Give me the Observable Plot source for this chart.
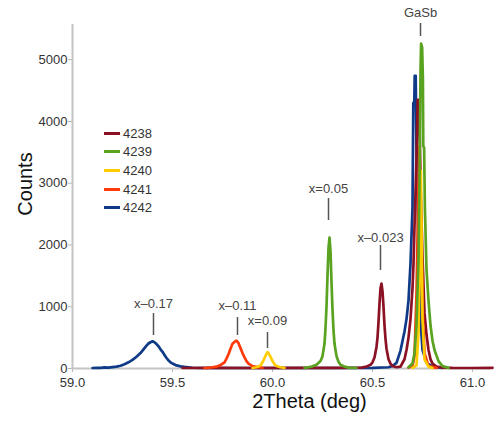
<!DOCTYPE html>
<html>
<head>
<meta charset="utf-8">
<script src="https://cdn.jsdelivr.net/npm/d3@7"></script>
<script src="https://cdn.jsdelivr.net/npm/@observablehq/plot@0.6"></script>
<style>
  html, body { margin: 0; padding: 0; background: #fff; }
  #wrap { position: relative; width: 497px; height: 421px; font-family: "Liberation Sans", Arial, sans-serif; }
  #legend { position: absolute; left: 104px; top: 124px; font-size: 13px; color: #333; }
  #legend .row { display: flex; align-items: center; height: 18.6px; }
  #legend .sw { width: 16px; height: 3px; margin-right: 3px; }
  #ylabel { position: absolute; left: 25px; top: 184px; font-size: 20px; color: #111;
    transform: translate(-50%, -50%) rotate(-90deg); white-space: nowrap; line-height: 1; }
</style>
</head>
<body>
<div id="wrap"></div>
<script>
// ---- data (2Theta in degrees, Counts) ----
const seriesNames = ["4238", "4239", "4240", "4241", "4242"];
const seriesColors = ["#8b1224", "#5aa321", "#ffcc00", "#ff3a0a", "#0f3a88"];

// 4242 (blue)
const s4242 = [
  [59.10, 8], [59.12, 12], [59.14, 10], [59.16, 18], [59.18, 15], [59.20, 22], [59.22, 30],
  [59.24, 45], [59.26, 70], [59.28, 100], [59.30, 140], [59.32, 190], [59.34, 250], [59.35, 290],
  [59.36, 330], [59.37, 370], [59.38, 405], [59.39, 425], [59.40, 440], [59.41, 425], [59.42, 395],
  [59.43, 360], [59.44, 310], [59.45, 270], [59.46, 220], [59.47, 170], [59.48, 130], [59.49, 100],
  [59.50, 80], [59.52, 50], [59.54, 35], [59.56, 25], [59.58, 18], [59.60, 12], [59.65, 8],
  [60.00, 8], [60.50, 10], [60.58, 20], [60.60, 40], [60.62, 90], [60.64, 290], [60.66, 600],
  [60.67, 800], [60.68, 1100], [60.69, 1700], [60.70, 2600], [60.704, 4300], [60.709, 4300],
  [60.711, 4740], [60.716, 4740], [60.72, 3500], [60.73, 2000], [60.74, 800], [60.75, 300],
  [60.77, 90], [60.80, 30], [60.85, 10]
];
// 4238 (dark red)
const s4238 = [
  [59.55, 8], [59.70, 10], [59.90, 8], [60.10, 10], [60.30, 9], [60.44, 12], [60.47, 30],
  [60.49, 60], [60.50, 100], [60.51, 180], [60.52, 350], [60.525, 500], [60.53, 750],
  [60.535, 1050], [60.54, 1300], [60.545, 1375], [60.55, 1250], [60.555, 1000], [60.56, 700],
  [60.565, 480], [60.57, 320], [60.58, 150], [60.59, 80], [60.60, 40], [60.62, 20], [60.64, 30],
  [60.66, 150], [60.67, 300], [60.68, 500], [60.69, 800], [60.70, 1300], [60.705, 1700],
  [60.71, 2300], [60.72, 3400], [60.726, 4350], [60.731, 4350], [60.735, 4000], [60.74, 3000],
  [60.75, 1800], [60.76, 900], [60.77, 550], [60.78, 300], [60.79, 150], [60.80, 80],
  [60.82, 30], [60.85, 15], [60.90, 10], [61.00, 8], [61.10, 10]
];
// 4241 (red)
const s4241 = [
  [59.66, 8], [59.68, 12], [59.70, 20], [59.72, 30], [59.74, 55], [59.76, 100], [59.77, 160],
  [59.78, 230], [59.79, 320], [59.80, 400], [59.81, 430], [59.82, 450], [59.83, 410],
  [59.84, 330], [59.85, 250], [59.86, 180], [59.87, 120], [59.88, 80], [59.90, 40],
  [59.92, 25], [59.95, 12], null,
  [60.68, 15], [60.70, 40], [60.71, 200], [60.72, 1200], [60.73, 3000], [60.735, 3600],
  [60.74, 2800], [60.75, 1000], [60.76, 250], [60.78, 40], [60.82, 10]
];
// 4240 (yellow)
const s4240 = [
  [59.90, 8], [59.92, 20], [59.94, 50], [59.95, 100], [59.96, 170], [59.97, 240], [59.975, 265],
  [59.98, 245], [59.99, 190], [60.00, 120], [60.01, 70], [60.02, 40], [60.04, 20], [60.06, 10],
  null,
  [60.70, 10], [60.72, 50], [60.73, 600], [60.738, 2000], [60.742, 3200], [60.746, 2000],
  [60.75, 800], [60.76, 150], [60.78, 30], [60.80, 8]
];
// 4239 (green)
const s4239 = [
  [60.16, 10], [60.18, 20], [60.20, 35], [60.22, 60], [60.24, 120], [60.25, 200], [60.26, 400],
  [60.265, 650], [60.27, 1000], [60.275, 1500], [60.28, 1950], [60.285, 2120], [60.29, 1900],
  [60.295, 1400], [60.30, 950], [60.305, 620], [60.31, 400], [60.32, 200], [60.33, 110],
  [60.34, 60], [60.36, 30], [60.38, 15], [60.42, 8], null,
  [60.68, 20], [60.70, 80], [60.71, 250], [60.72, 700], [60.73, 1800], [60.735, 3000],
  [60.74, 4800], [60.743, 5260], [60.748, 5200], [60.752, 4700], [60.754, 3600], [60.758, 3580],
  [60.762, 2600], [60.77, 1600], [60.78, 1100], [60.79, 700], [60.80, 450], [60.81, 300],
  [60.83, 120], [60.85, 40], [60.88, 10]
];

// annotations
const annoText = ["x\u20130.17", "x\u20130.11", "x=0.09", "x=0.05", "x\u20130.023", "GaSb"];
const annoTheta = [59.405, 59.825, 59.975, 60.28, 60.54, 60.74];
const annoTextCount = [1052, 1020, 777, 2914, 2121, 5756];
const annoLineTop = [890, 826, 583, 2753, 1992, 5586];
const annoLineBottom = [534, 534, 324, 2396, 1587, 5376];

const xTicks = [59.0, 59.5, 60.0, 60.5, 61.0];
const yTicks = [0, 1000, 2000, 3000, 4000, 5000];

// ---- build table ----
const drawOrder = [
  ["4242", s4242], ["4238", s4238], ["4241", s4241], ["4240", s4240], ["4239", s4239]
];
const rows = [];
for (const [name, pts] of drawOrder) {
  for (const p of pts) {
    if (p === null) rows.push({series: name, theta: NaN, count: NaN});
    else rows.push({series: name, theta: p[0], count: p[1]});
  }
}
const annos = annoText.map((t, i) => ({
  text: t, theta: annoTheta[i], tc: annoTextCount[i], y1: annoLineTop[i], y2: annoLineBottom[i]
}));

const font = "'Liberation Sans', Arial, sans-serif";

const chart = Plot.plot({
  width: 497,
  height: 421,
  marginLeft: 72,
  marginRight: 7,
  marginTop: 24,
  marginBottom: 53,
  style: {fontFamily: font, background: "#fff"},
  x: {domain: [59, 61.09]},
  y: {domain: [0, 5570]},
  color: {domain: seriesNames, range: seriesColors},
  marks: [
    Plot.axisY({ticks: yTicks, tickSize: 4, tickPadding: 1, fontSize: 13, stroke: "#b8b8b8",
      fill: "#333", label: null, tickFormat: d3.format("d")}),
    Plot.axisX({ticks: xTicks, tickSize: 4, tickPadding: 5, fontSize: 13, stroke: "#b8b8b8",
      fill: "#333", label: null, tickFormat: d3.format(".1f")}),
    Plot.ruleX([59], {stroke: "#c4c4c4", strokeWidth: 2}),
    Plot.ruleY([0], {stroke: "#c4c4c4", strokeWidth: 2}),
    Plot.line(rows, {x: "theta", y: "count", z: "series", stroke: "series",
      strokeWidth: 2.7, strokeLinejoin: "round", strokeLinecap: "round"}),
    Plot.ruleX(annos, {x: "theta", y1: "y1", y2: "y2", stroke: "#555", strokeWidth: 1.5}),
    Plot.text(annos, {x: "theta", y: "tc", text: "text", fontSize: 13, fill: "#444"}),
    Plot.text(["2Theta (deg)"], {frameAnchor: "bottom", text: d => d, dx: 28, dy: 25,
      lineAnchor: "top", fontSize: 20, fill: "#111"})
  ]
});

const wrap = document.getElementById("wrap");
wrap.appendChild(chart);

const ylab = document.createElement("div");
ylab.id = "ylabel";
ylab.textContent = "Counts";
wrap.appendChild(ylab);

const legend = document.createElement("div");
legend.id = "legend";
seriesNames.forEach((n, i) => {
  const r = document.createElement("div");
  r.className = "row";
  const sw = document.createElement("div");
  sw.className = "sw";
  sw.style.background = seriesColors[i];
  const t = document.createElement("span");
  t.textContent = n;
  r.appendChild(sw);
  r.appendChild(t);
  legend.appendChild(r);
});
wrap.appendChild(legend);
</script>
</body>
</html>
